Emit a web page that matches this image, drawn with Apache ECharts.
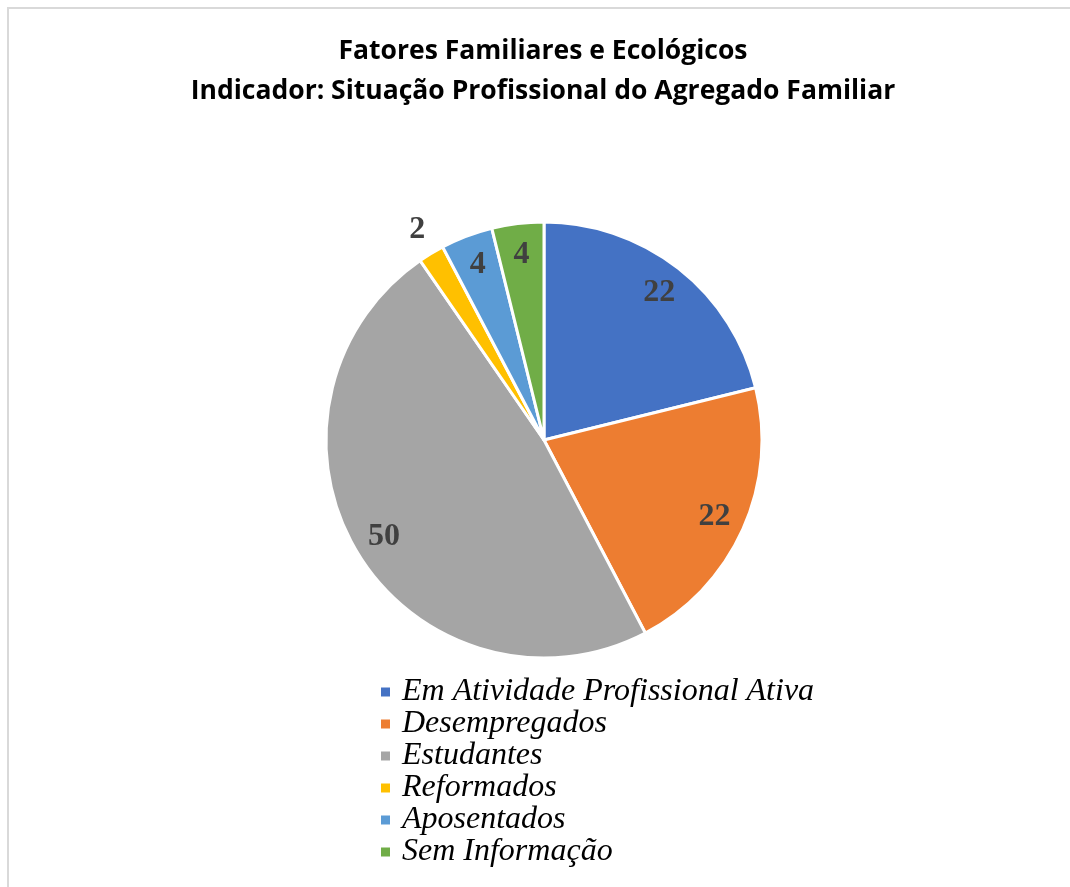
<!DOCTYPE html>
<html>
<head>
<meta charset="utf-8">
<script src="https://cdn.jsdelivr.net/npm/echarts@6/dist/echarts.min.js"></script>
<style>
  html, body { margin: 0; padding: 0; background: #fff; }
  #frame { position: absolute; left: 7px; top: 7px; right: -10px; bottom: -10px; border: 2px solid #d9d9d9; }
  #chart { position: absolute; left: 0; top: 0; width: 1070px; height: 887px; }
</style>
</head>
<body>
<div id="frame"></div>
<div id="chart"></div>
<script>
var categorias = ['Em Atividade Profissional Ativa', 'Desempregados', 'Estudantes', 'Reformados', 'Aposentados', 'Sem Informação'];
var valores = [22, 22, 50, 2, 4, 4];
var cores = ['#4472C4', '#ED7D31', '#A5A5A5', '#FFC000', '#5B9BD5', '#70AD47'];

var myChart = echarts.init(document.getElementById('chart'));

var fatias = categorias.map(function (nome, i) {
  return { name: nome, value: valores[i], itemStyle: { color: cores[i] } };
});
// camada so para os rotulos (anel exterior transparente)
var rotulos = categorias.map(function (nome, i) {
  var item = { name: nome, value: valores[i] };
  if (valores[i] < 3) {
    item.label = { offset: [-30, -50] };   // o "2" fica fora da fatia
  }
  return item;
});

myChart.setOption({
  animation: false,
  title: {
    text: 'Fatores Familiares e Ecológicos\nIndicador: Situação Profissional do Agregado Familiar',
    left: 538,
    textAlign: 'center',
    top: 26,
    textStyle: {
      fontFamily: 'Open Sans',
      fontWeight: 'bold',
      fontSize: 26.5,
      lineHeight: 40,
      color: '#000'
    }
  },
  legend: {
    orient: 'vertical',
    left: 374,
    top: 671,
    itemWidth: 11,
    itemHeight: 11,
    itemGap: 0,
    icon: 'rect',
    data: categorias,
    textStyle: {
      fontFamily: 'Liberation Serif',
      fontStyle: 'italic',
      fontSize: 32,
      lineHeight: 32,
      color: '#000',
      padding: [0, 0, 0, 6]
    }
  },
  series: [
    {
      name: 'situacao',
      type: 'pie',
      center: [544, 440],
      radius: [0, 218],
      startAngle: 90,
      clockwise: true,
      silent: true,
      label: { show: false },
      labelLine: { show: false },
      itemStyle: { borderColor: '#fff', borderWidth: 3 },
      data: fatias
    },
    {
      name: 'rotulos',
      type: 'pie',
      center: [544, 440],
      radius: [150, 218],
      startAngle: 90,
      clockwise: true,
      silent: true,
      legendHoverLink: false,
      itemStyle: { color: 'rgba(0,0,0,0)' },
      label: {
        show: true,
        position: 'inside',
        formatter: '{c}',
        fontFamily: 'Liberation Serif',
        fontWeight: 'bold',
        fontSize: 32,
        color: '#404040'
      },
      labelLine: { show: false },
      data: rotulos
    }
  ]
});
</script>
</body>
</html>
